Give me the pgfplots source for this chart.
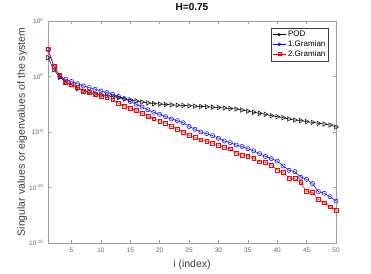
\documentclass[border=0pt]{standalone}
\usepackage{pgfplots}
\pgfplotsset{compat=1.18}
\usepackage{fontspec}
\setmainfont{Liberation Sans}
\definecolor{axgray}{RGB}{160,160,160}
\definecolor{tickgray}{RGB}{100,100,100}
\definecolor{labgray}{RGB}{60,60,60}
\definecolor{mblue}{RGB}{0,0,255}
\definecolor{mred}{RGB}{255,0,0}
\begin{document}
\begin{tikzpicture}[x=1pt,y=1pt]
\path[use as bounding box] (-48,-30) rectangle (323,243);
\begin{axis}[
  scale only axis,
  width=288pt, height=222pt,
  ymode=log,
  xmin=1, xmax=50,
  ymin=1e-15, ymax=1e5,
  xtick={5,10,15,20,25,30,35,40,45,50},
  ytick={1e5,1e0,1e-5,1e-10,1e-15},
  yticklabels={10\textsuperscript{5},10\textsuperscript{0},10\textsuperscript{-5},10\textsuperscript{-10},10\textsuperscript{-15}},
  minor ytick={},
  yminorticks=false,
  tick align=inside,
  tick pos=both,
  major tick length=3pt,
  axis line style={axgray, line width=0.5pt},
  every tick/.style={axgray, line width=0.5pt},
  tick label style={font=\fontsize{6.5}{7.5}\selectfont, text=tickgray},
  /pgf/number format/assume math mode=true,
  xticklabel style={yshift=-1.5pt},
  yticklabel style={xshift=-1pt},
  title={\textbf{H=0.75}},
  title style={font=\fontsize{10}{12}\selectfont, at={(axis description cs:0.5,1.037)}, anchor=center},
  xlabel={i (index)},
  ylabel={Singular values or eigenvalues of the system},
  label style={font=\fontsize{10.5}{12}\selectfont, text=labgray},
  xlabel style={at={(axis description cs:0.5,-0.099)}, anchor=center},
  ylabel style={at={(axis description cs:-0.09,0.5)}, anchor=center},
  legend style={at={(0.975,0.97)}, anchor=north east, font=\fontsize{8}{9.5}\selectfont,
    draw=labgray, line width=0.4pt, inner sep=1.2pt, row sep=-1.5pt, cells={anchor=west}},
  legend cell align=left,
  legend image code/.code={
    \draw[mark repeat=2,mark phase=2,#1, mark size=1.5pt] plot coordinates {(0pt,0pt) (6.5pt,0pt) (13pt,0pt)};},
  clip=false,
]
\addplot[black, line width=0.5pt, mark=triangle, mark size=2.6pt, mark options={rotate=-90, solid}] coordinates {
(1,50) (2,4.0) (3,0.85) (4,0.32) (5,0.178) (6,7.9e-2) (7,5.0e-2) (8,4.0e-2) (9,2.8e-2) (10,2.24e-2)
(11,1.86e-2) (12,1.51e-2) (13,1.23e-2) (14,9.5e-3) (15,7.9e-3) (16,6.3e-3) (17,5.0e-3) (18,4.2e-3) (19,3.55e-3) (20,3.3e-3)
(21,3.0e-3) (22,2.8e-3) (23,2.6e-3) (24,2.45e-3) (25,2.3e-3) (26,2.14e-3) (27,2.0e-3) (28,1.86e-3) (29,1.74e-3) (30,1.58e-3)
(31,1.45e-3) (32,1.32e-3) (33,1.17e-3) (34,9.5e-4) (35,7.6e-4) (36,6.0e-4) (37,4.8e-4) (38,3.9e-4) (39,2.95e-4) (40,2.4e-4)
(41,1.95e-4) (42,1.48e-4) (43,1.2e-4) (44,1.05e-4) (45,8.5e-5) (46,7.4e-5) (47,6.0e-5) (48,5.2e-5) (49,4.3e-5) (50,2.8e-5)
};
\addlegendentry{POD}
\addplot[mblue, line width=0.5pt, mark=o, mark size=2.1pt] coordinates {
(1,251) (2,7.9) (3,1.0) (4,0.56) (5,0.355) (6,0.224) (7,0.141) (8,0.1) (9,7.1e-2) (10,5.0e-2)
(11,3.55e-2) (12,2.5e-2) (13,1.58e-2) (14,1.0e-2) (15,5.6e-3) (16,3.16e-3) (17,1.78e-3) (18,1.0e-3) (19,5.9e-4) (20,3.9e-4)
(21,2.4e-4) (22,1.48e-4) (23,1.05e-4) (24,6.9e-5) (25,3.16e-5) (26,1.78e-5) (27,1.0e-5) (28,7.1e-6) (29,4.7e-6) (30,2.7e-6)
(31,1.55e-6) (32,1.1e-6) (33,6.8e-7) (34,5.0e-7) (35,3.16e-7) (36,2.0e-7) (37,1.12e-7) (38,6.3e-8) (39,4.0e-8) (40,2.4e-8)
(41,8.7e-9) (42,3.55e-9) (43,2.7e-9) (44,8.3e-10) (45,5.5e-10) (46,2.24e-10) (47,4.2e-11) (48,3.0e-11) (49,1.48e-11) (50,6.0e-12)
};
\addlegendentry{1.Gramian}
\addplot[mred, line width=0.5pt, mark=square, mark size=1.9pt] coordinates {
(1,316) (2,8.9) (3,1.26) (4,0.316) (5,0.178) (6,0.112) (7,5.0e-2) (8,3.55e-2) (9,2.5e-2) (10,1.78e-2)
(11,1.26e-2) (12,7.9e-3) (13,4.0e-3) (14,2.24e-3) (15,1.41e-3) (16,8.9e-4) (17,5.0e-4) (18,2.8e-4) (19,1.58e-4) (20,1.0e-4)
(21,6.3e-5) (22,3.16e-5) (23,1.78e-5) (24,1.0e-5) (25,5.0e-6) (26,3.16e-6) (27,2.0e-6) (28,1.41e-6) (29,1.0e-6) (30,6.3e-7)
(31,4.0e-7) (32,3.16e-7) (33,1.26e-7) (34,8.5e-8) (35,6.9e-8) (36,4.3e-8) (37,2.1e-8) (38,1.74e-8) (39,1.07e-8) (40,3.8e-9)
(41,2.2e-9) (42,6.8e-10) (43,6.3e-10) (44,2.75e-10) (45,4.3e-11) (46,3.5e-11) (47,8.5e-12) (48,4.3e-12) (49,1.86e-12) (50,9.3e-13)
};
\addlegendentry{2.Gramian}
\end{axis}
\end{tikzpicture}
\end{document}
